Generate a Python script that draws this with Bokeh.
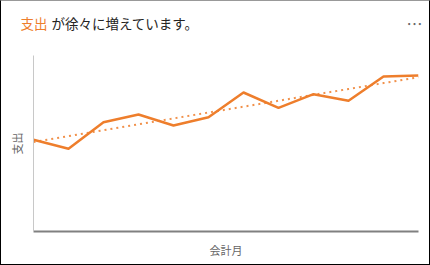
import numpy as np
from bokeh.plotting import figure
from bokeh.layouts import column
from bokeh.models import Range1d, Label, FixedTicker
from bokeh.embed import file_html
from bokeh.resources import INLINE

# data
months = [1, 2, 3, 4, 5, 6, 7, 8, 9, 10, 11, 12]
spending = [91.7, 82.7, 109.3, 117.0, 106.0, 114.3, 139.0, 123.7, 137.3, 130.7, 155.0, 156.0]

title_highlight = "支出"
title_rest = "が徐々に増えています。"
x_label = "会計月"
y_label = "支出"

# linear trend line (least squares fit of the series)
slope, intercept = np.polyfit(months, spending, 1)
trend = [slope * m + intercept for m in months]

ORANGE = "#EE7E2C"
FONT = "Noto Sans CJK JP"

# ---- header (narrative title + menu dots) ----
header = figure(width=428, height=45, output_backend="svg", toolbar_location=None,
                x_range=Range1d(0, 428), y_range=Range1d(0, 45),
                x_axis_type=None, y_axis_type=None, min_border=0)
header.frame_align = False
header.outline_line_color = None
header.grid.visible = False
header.add_layout(Label(x=19, y=24, x_units="screen", y_units="screen", text=title_highlight,
                        text_color=ORANGE, text_font=FONT, text_font_size="13.5px",
                        text_baseline="middle"))
header.add_layout(Label(x=50, y=24, x_units="screen", y_units="screen", text=title_rest,
                        text_color="#252423", text_font=FONT, text_font_size="13.5px",
                        text_baseline="middle"))
header.add_layout(Label(x=405, y=24, x_units="screen", y_units="screen", text="⋯",
                        text_color="#666666", text_font=FONT, text_font_size="16px",
                        text_baseline="middle"))

# ---- chart ----
p = figure(width=428, height=218, output_backend="svg", toolbar_location=None,
           x_range=Range1d(1, 12), y_range=Range1d(0, 176),
           min_border_left=32, min_border_right=11, min_border_top=9, min_border_bottom=33)
p.frame_align = False
p.outline_line_color = None
p.grid.visible = False

for ax in (p.xaxis, p.yaxis):
    ax.ticker = FixedTicker(ticks=[])
    ax.major_tick_line_color = None
    ax.minor_tick_line_color = None
    ax.major_label_text_font_size = "0px"
    ax.axis_label_text_font = FONT
    ax.axis_label_text_font_size = "11px"
    ax.axis_label_text_font_style = "normal"
    ax.axis_label_text_color = "#666666"

p.xaxis.axis_label = x_label
p.yaxis.axis_label = y_label
p.xaxis.axis_line_color = "#808080"
p.xaxis.axis_line_width = 2
p.yaxis.axis_line_color = "#c8c8c8"
p.yaxis.axis_line_width = 1
p.xaxis.axis_label_standoff = 10
p.yaxis.axis_label_standoff = 9

p.line(months, trend, line_color=ORANGE, line_width=2, line_dash="2 4", line_alpha=0.85)
p.line(months, spending, line_color=ORANGE, line_width=2.5, line_join="round")

layout = column(header, p, spacing=0)
layout.styles = {"border-left": "1px solid #000", "border-top": "1px solid #999",
                 "border-right": "1px solid #000", "border-bottom": "1px solid #000"}

open("out.html", "w").write(file_html(layout, INLINE))
